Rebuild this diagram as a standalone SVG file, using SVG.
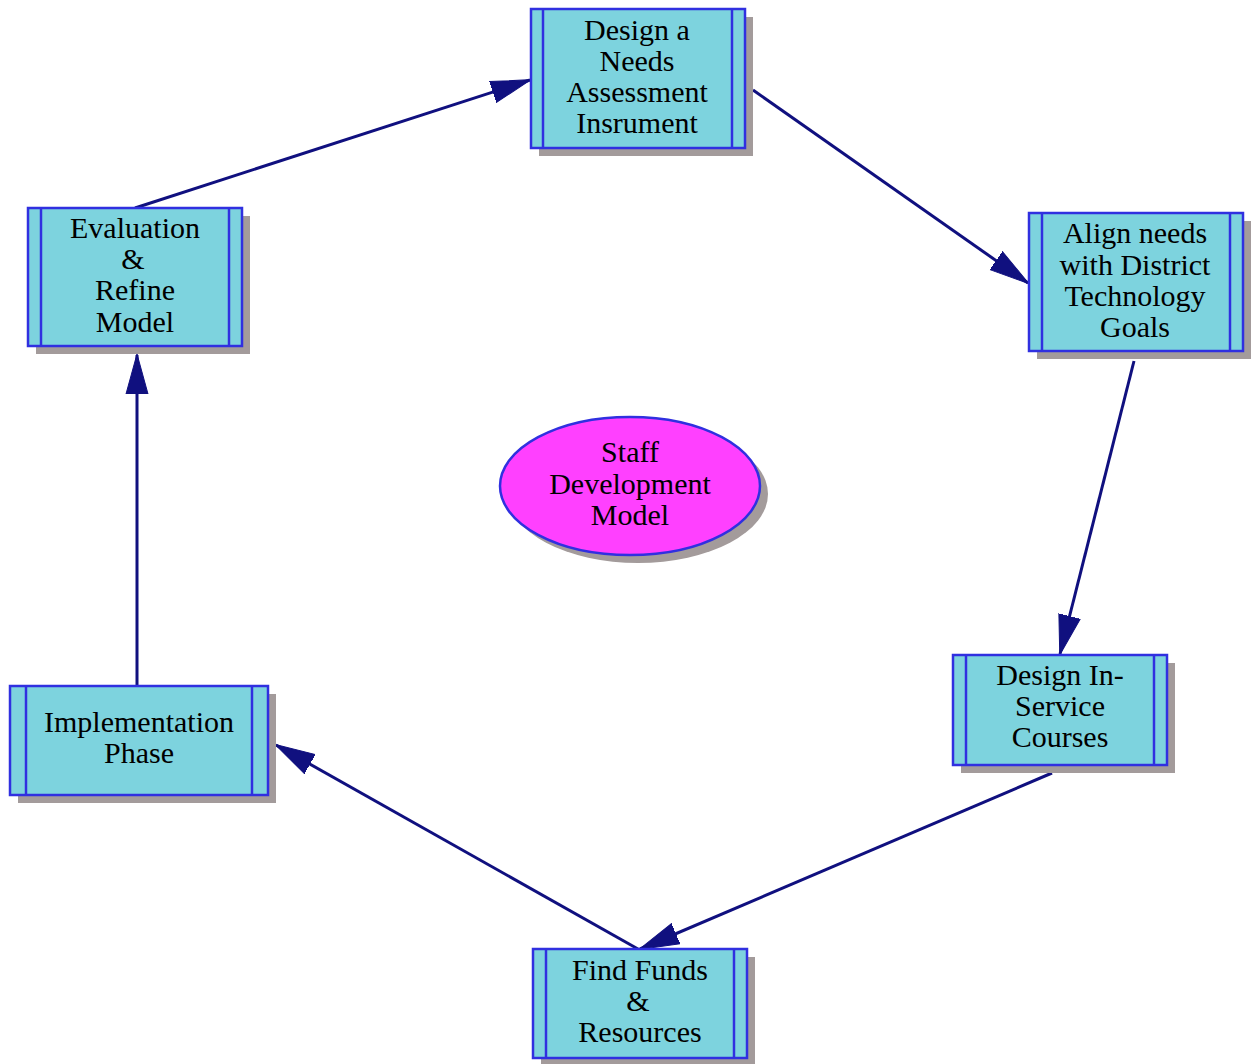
<svg xmlns="http://www.w3.org/2000/svg" width="1251" height="1064" viewBox="0 0 1251 1064">
<style>
.sh{fill:#a39b9b;stroke:none}
.bx{fill:#7dd3de;stroke:#3030e0;stroke-width:2.5}
.ln{stroke:#3030e0;stroke-width:2.5;fill:none}
.el{fill:#ff40ff;stroke:#3030e0;stroke-width:2.5}
.t{font-size:30px;fill:#000;text-anchor:middle}
.e{stroke:#10107f;stroke-width:3;fill:none;marker-end:url(#ah)}
</style>
<defs>
<marker id="ah" markerUnits="userSpaceOnUse" markerWidth="40" markerHeight="24" viewBox="0 0 40 24" refX="39" refY="12" orient="auto">
<path d="M0,1 L40,12 L0,23 Z" fill="#10107f" stroke="#10107f" stroke-width="1"/>
</marker>
</defs>
<rect width="1251" height="1064" fill="#fff"/>
<g id="edges">
<line class="e" x1="135" y1="208" x2="530" y2="80"/>
<line class="e" x1="753" y1="90" x2="1028" y2="283"/>
<line class="e" x1="1134" y1="361" x2="1060" y2="654"/>
<line class="e" x1="1052" y1="773" x2="640" y2="949"/>
<line class="e" x1="638" y1="949" x2="276" y2="745"/>
<line class="e" x1="137" y1="686" x2="137" y2="355"/>
</g>
<g font-family="'Liberation Serif', 'Times New Roman', 'DejaVu Serif', serif">
<g id="n_design">
<rect class="sh" x="539" y="17" width="214" height="139"/>
<rect class="bx" x="531" y="9" width="214" height="139"/>
<line class="ln" x1="543" y1="9" x2="543" y2="148"/>
<line class="ln" x1="732" y1="9" x2="732" y2="148"/>
<text class="t" x="637" y="40">Design a</text>
<text class="t" x="637" y="71">Needs</text>
<text class="t" x="637" y="102">Assessment</text>
<text class="t" x="637" y="133">Insrument</text>
</g>
<g id="n_eval">
<rect class="sh" x="36" y="216" width="214" height="138"/>
<rect class="bx" x="28" y="208" width="214" height="138"/>
<line class="ln" x1="41" y1="208" x2="41" y2="346"/>
<line class="ln" x1="229" y1="208" x2="229" y2="346"/>
<text class="t" x="135" y="238">Evaluation</text>
<text class="t" x="133" y="269">&amp;</text>
<text class="t" x="135" y="300">Refine</text>
<text class="t" x="135" y="332">Model</text>
</g>
<g id="n_align">
<rect class="sh" x="1037" y="221" width="214" height="138"/>
<rect class="bx" x="1029" y="213" width="214" height="138"/>
<line class="ln" x1="1042" y1="213" x2="1042" y2="351"/>
<line class="ln" x1="1230" y1="213" x2="1230" y2="351"/>
<text class="t" x="1135" y="243">Align needs</text>
<text class="t" x="1135" y="275">with District</text>
<text class="t" x="1135" y="306">Technology</text>
<text class="t" x="1135" y="337">Goals</text>
</g>
<g id="n_staff">
<ellipse class="sh" cx="638" cy="494" rx="130" ry="69"/>
<ellipse class="el" cx="630" cy="486" rx="130" ry="69"/>
<text class="t" x="630" y="462">Staff</text>
<text class="t" x="630" y="494">Development</text>
<text class="t" x="630" y="525">Model</text>
</g>
<g id="n_inservice">
<rect class="sh" x="961" y="663" width="214" height="110"/>
<rect class="bx" x="953" y="655" width="214" height="110"/>
<line class="ln" x1="966" y1="655" x2="966" y2="765"/>
<line class="ln" x1="1154" y1="655" x2="1154" y2="765"/>
<text class="t" x="1060" y="685">Design In-</text>
<text class="t" x="1060" y="716">Service</text>
<text class="t" x="1060" y="747">Courses</text>
</g>
<g id="n_impl">
<rect class="sh" x="18" y="694" width="258" height="109"/>
<rect class="bx" x="10" y="686" width="258" height="109"/>
<line class="ln" x1="26" y1="686" x2="26" y2="795"/>
<line class="ln" x1="252" y1="686" x2="252" y2="795"/>
<text class="t" x="139" y="732">Implementation</text>
<text class="t" x="139" y="763">Phase</text>
</g>
<g id="n_funds">
<rect class="sh" x="541" y="957" width="214" height="108"/>
<rect class="bx" x="533" y="949" width="214" height="109"/>
<line class="ln" x1="546" y1="949" x2="546" y2="1058"/>
<line class="ln" x1="734" y1="949" x2="734" y2="1058"/>
<text class="t" x="640" y="980">Find Funds</text>
<text class="t" x="638" y="1011">&amp;</text>
<text class="t" x="640" y="1042">Resources</text>
</g>
</g>
</svg>
